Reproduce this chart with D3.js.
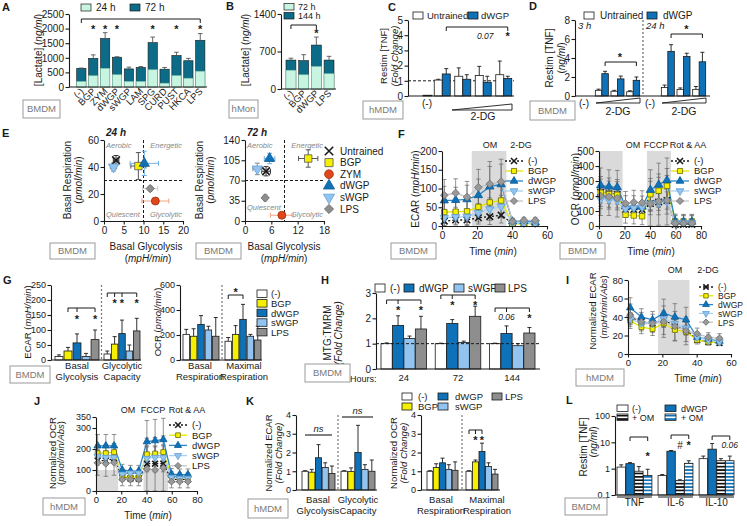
<!DOCTYPE html>
<html><head><meta charset="utf-8">
<script src="https://cdn.jsdelivr.net/npm/d3@7"></script>
<style>body{margin:0;background:#fff}</style>
</head><body><script>
// ================= DATA =================
// A
const lacCats=["(-)","BGP","ZYM","dWGP","sWGP","LAM","SPG","CURD","PUST","HKCA","LPS"];
const lac24=[190,385,640,420,190,190,590,130,390,300,540];
const lac72=[640,980,1660,1020,620,670,1520,610,1080,900,1600];
const lac72Err=[10,120,200,15,60,30,190,60,110,80,230];
const lacSig=["BGP","ZYM","dWGP","SPG","PUST","LPS"];
const lacTicks=[0,500,1000,1500,2000,2500];
// B
const monCats=["(-)","BGP","dWGP","LPS"];
const mon72=[350,265,420,285];
const mon144=[540,530,820,540];
const mon144Err=[35,110,150,70];
const monTicks=[0,700,1400];
// C
const dgDoses=["0","1","2","3"];
const cNeg=[0.05];
const cUntr=[1.05,1.3,1.35,1.4], cUntrErr=[0.05,0.55,0.6,0.9];
const cDW=[1.45,1.1,0.9,1.15], cDWErr=[0.35,0.3,0.4,0.15];
const cTicks=[0,1,2,3,4,5];
// D
const dDoses=["1","2","3"];
const dUntr3=[0.6,0.5,0.45], dUntr3Err=[0.12,0.1,0.1];
const dDW3=[2.35,1.8,1.65], dDW3Err=[0.25,0.3,0.35];
const dUntr24=[0.9,0.7,0.7], dUntr24Err=[0.25,0.15,0.3];
const dDW24=[4.7,4.15,3.6], dDW24Err=[0.7,0.35,1.0];
const dTicks=[0,2,4,6,8];
// E
const eGroups=["Untrained","BGP","ZYM","dWGP","sWGP","LPS"];
const e24x=[3.05,8.7,13,10.2,2.4,11.7], e24xErr=[0.7,1.9,3.4,3.6,0.8,1.9];
const e24y=[45,40.7,14.8,42.7,40,24], e24yErr=[3.5,10,1,9,3,2];
const e72x=[4.8,14.4,8.4,5.6,2.8,4.6], e72xErr=[1,2.2,2.6,1.2,1,0.5];
const e72y=[86,108,10,108,90,40], e72yErr=[8,15,1,9,10,6];
// F / I / J series
const seahorse=["(-)","BGP","dWGP","sWGP","LPS"];
const ecarTime=[1.3,7.8,14.3,20.8,27.3,33.8,40.3,46.8,53.3];
const ocrTime=[1.3,7.8,14.3,20.8,27.3,33.8,40.3,46.8,53.3,59.8,66.3,72.8];
const fEcarNeg=[13,16,16,22,25,29,7,7,7];
const fEcarBGP=[37,38,39,51,63,68,6,6,7];
const fEcarDW=[68,69,71,82,105,111,12,12,10];
const fEcarSW=[22,24,25,35,45,52,8,8,8];
const fEcarLPS=[82,88,77,103,112,118,12,15,15];
const fEcarErr=[42,38,42,48,60,60,8,8,8];
const fOcrNeg=[225,215,210,110,110,110,150,160,170,10,10,10];
const fOcrBGP=[222,212,208,75,70,65,212,235,268,30,30,30];
const fOcrDW=[270,262,258,130,130,128,240,275,305,30,28,28];
const fOcrSW=[180,175,170,115,122,125,150,155,162,20,20,20];
const fOcrLPS=[200,195,185,150,158,155,148,165,172,18,18,18];
const fOcrErr=[130,125,125,80,80,80,150,160,165,55,55,55];
const iNeg=[40,35,33,37,30,26,15,13,12];
const iBGP=[36,29,27,33,26,24,15,13,13];
const iDW=[50,40,37,44,40,37,18,16,14];
const iSW=[38,33,33,38,33,28,18,15,13];
const iLPS=[42,35,33,35,30,25,22,18,17];
const iErr=[12,10,10,17,16,15,6,5,5];
const jNeg=[145,145,155,65,60,60,130,130,130,55,55,55];
const jBGP=[180,180,185,70,65,65,175,178,185,70,65,65];
const jDW=[215,215,215,100,95,95,235,240,245,80,78,78];
const jSW=[165,160,160,80,85,85,155,160,160,65,60,60];
const jLPS=[135,130,135,55,55,55,105,100,110,45,45,45];
const jErr=[60,60,60,30,30,30,110,110,110,30,30,30];
// G
const gEcarBasal=[12,30,57,12,68], gEcarBasalErr=[5,12,30,10,32];
const gEcarCap=[20,53,88,30,97], gEcarCapErr=[10,25,45,20,42];
const gOcrBasal=[205,190,285,240,190], gOcrBasalErr=[40,60,70,30,150];
const gOcrMax=[150,205,325,190,160], gOcrMaxErr=[30,70,120,15,110];
// H
const hHours=["24","72","144"];
const hSeries=["(-)","dWGP","sWGP","LPS"];
const hNeg=[1,1,1], hDW=[1.72,1.8,1.4], hSW=[1.2,1.05,0.92], hLPS=[1.58,2.08,1.42];
const hNegErr=[0.03,0.02,0.02], hDWErr=[0.38,0.15,0.3], hSWErr=[0.1,0.05,0.08], hLPSErr=[0.5,0.4,0.22];
// K
const kEcarBasal=[1,0.95,1.72,1.2,0.88], kEcarBasalErr=[0.03,0.15,0.7,0.25,0.4];
const kEcarCap=[1,0.98,2.0,1.1,1.0], kEcarCapErr=[0.03,0.2,1.45,0.25,0.6];
const kOcrBasal=[1,1.2,1.45,1.1,1.05], kOcrBasalErr=[0.03,0.2,0.25,0.25,0.45];
const kOcrMax=[1,1.5,2.05,1.25,0.85], kOcrMaxErr=[0.03,0.1,0.45,0.2,0.25];
// L
const lCyto=["TNF","IL-6","IL-10"];
const lNeg=[1.15,0.55,2.4], lNegErr=[0.25,0.05,0.6];
const lDW=[1.55,4.6,5.5], lDWErr=[0.15,0.3,3.5];
const lNegOM=[0.8,0.35,2.0], lNegOMErr=[0.4,0.03,0.4];
const lDWOM=[0.55,1.6,2.0], lDWOMErr=[0.4,0.4,1.0];

// ================= HELPERS =================
const FONT='"Liberation Sans", Arial, Helvetica, sans-serif';
const INK="#1a1a1a";
const COL={mint:"#c8f5e1",teal:"#0c6b87",white:"#ffffff",blue:"#0f72b8",lblue:"#93c4ef",gray:"#8e8e8e",yellow:"#f4f000",red:"#e0461c",shade:"#dadada"};
const svg=d3.select("body").append("svg").attr("width",747).attr("height",526).attr("font-family",FONT);
const defs=svg.append("defs");
function hatch(id,col){const p=defs.append("pattern").attr("id",id).attr("patternUnits","userSpaceOnUse").attr("width",4).attr("height",3.4);
 p.append("rect").attr("width",4).attr("height",3.4).attr("fill","#fff");p.append("rect").attr("width",4).attr("height",1.7).attr("fill",col);}
hatch("hk","#111");hatch("hb",COL.blue);

function T(x,y,s,o={}){
 const t=svg.append("text").attr("x",x).attr("y",y).attr("font-size",o.fs||10).attr("fill",o.fill||INK).attr("text-anchor",o.a||"start");
 if(o.it) t.attr("font-style","italic");
 if(o.b) t.attr("font-weight","bold");
 if(o.rot!=null) t.attr("transform",`rotate(${o.rot},${x},${y})`);
 if(Array.isArray(s)) s.forEach(p=>{const sp=t.append("tspan").text(p[0]); if(p[1]) sp.attr("font-style","italic");});
 else t.text(s);
 return t;}
function P(d,o={}){return svg.append("path").attr("d",d).attr("fill",o.fill||"none").attr("stroke",o.stroke||INK).attr("stroke-width",o.sw||1).attr("stroke-dasharray",o.dash||null);}
function R(x,y,w,h,fill,o={}){return svg.append("rect").attr("x",x).attr("y",y).attr("width",w).attr("height",Math.max(0,h)).attr("fill",fill).attr("stroke",o.stroke===undefined?INK:o.stroke).attr("stroke-width",o.sw||0.8);}
function styleAx(g,fs){g.attr("font-family",FONT).attr("font-size",fs);g.select(".domain").attr("stroke",INK).attr("stroke-width",1.1);
 g.selectAll(".tick line").attr("stroke",INK).attr("stroke-width",1.1);g.selectAll(".tick text").attr("fill",INK);return g;}
function axL(x,sc,ticks,fs=10,fmt=d3.format("d")){return styleAx(svg.append("g").attr("transform",`translate(${x},0)`).call(d3.axisLeft(sc).tickValues(ticks).tickSize(3.5).tickSizeOuter(0).tickPadding(1.5).tickFormat(fmt)),fs);}
function axB(y,sc,ticks,fs=10){return styleAx(svg.append("g").attr("transform",`translate(0,${y})`).call(d3.axisBottom(sc).tickValues(ticks).tickSize(3.5).tickSizeOuter(0).tickPadding(2).tickFormat(d3.format("d"))),fs);}
function EB(x,y0,y1,cw=2.5,col=INK,sw=0.9){P(`M${x},${y0}V${y1}M${x-cw},${y1}H${x+cw}`,{stroke:col,sw});}
function EB2(x,ylo,yhi,cw=2.5,col=INK,sw=0.8){P(`M${x},${ylo}V${yhi}M${x-cw},${ylo}H${x+cw}M${x-cw},${yhi}H${x+cw}`,{stroke:col,sw});}
function EBX(y,xlo,xhi,cw=2.5,col=INK,sw=0.9){P(`M${xlo},${y}H${xhi}M${xlo},${y-cw}V${y+cw}M${xhi},${y-cw}V${y+cw}`,{stroke:col,sw});}
function BR(x1,x2,y,d=4,mids=[]){let p=`M${x1},${y+d}V${y}H${x2}V${y+d}`;mids.forEach(m=>p+=`M${m},${y}V${y+d}`);P(p,{sw:1});}
function STAR(x,y,fs=11){T(x,y,"*",{a:"middle",fs,b:true});}
function CELL(x,y,w,h,s){R(x,y,w,h,"#fff",{stroke:"#9a9a9a",sw:1});T(x+w/2,y+h/2+3.4,s,{a:"middle",fill:"#7a7a7a",fs:9.5});}
function LBL(x,y,s){T(x,y,s,{b:true,fs:11});}
const SYM={x:d3.symbolX,sq:d3.symbolSquare,ci:d3.symbolCircle,tri:d3.symbolTriangle,dtri:d3.symbolTriangle,dia:d3.symbolSquare};
function MK(x,y,type,size,fill,stroke,sw=0.8){
 const rot=type==="dtri"?180:type==="dia"?45:0;
 svg.append("path").attr("d",d3.symbol(SYM[type],size)()).attr("transform",`translate(${x},${y}) rotate(${rot})`)
  .attr("fill",type==="x"?"none":fill).attr("stroke",stroke).attr("stroke-width",type==="x"?1.6:sw);}
const STY={
 "(-)":{sym:"x",fill:INK,stroke:INK,line:INK,dash:"2,2"},
 "BGP":{sym:"sq",fill:COL.yellow,stroke:"#6a6a00",line:"#e8e400"},
 "dWGP":{sym:"tri",fill:COL.blue,stroke:"#0a5a94",line:"#2a86c8"},
 "sWGP":{sym:"dtri",fill:COL.lblue,stroke:"#5f9fd6",line:"#a9d0f2"},
 "LPS":{sym:"dia",fill:"#999",stroke:"#6f6f6f",line:"#c4c4c4"}
};
function LINE(xs,ys,times,names,vals,err,sz){
 names.forEach((n,i)=>vals[i].forEach((v,j)=>{const e=err[j]*(n==="(-)"?0.35:n==="sWGP"?0.5:n==="BGP"?0.7:n==="dWGP"?0.9:1);
   EB2(xs(times[j]),ys(Math.max(0,v-e)),ys(v+e),2.3,"#666",0.7);}));
 names.forEach((n,i)=>{const s=STY[n];svg.append("path").datum(vals[i]).attr("d",d3.line().x((d,j)=>xs(times[j])).y(d=>ys(d)))
   .attr("fill","none").attr("stroke",s.line).attr("stroke-width",1.3).attr("stroke-dasharray",s.dash||null);});
 names.forEach((n,i)=>{const s=STY[n];vals[i].forEach((v,j)=>MK(xs(times[j]),ys(v),s.sym,sz,s.fill,s.stroke));});}
function LEGL(x,y0,dy,names,fs=9.5,sz=26,half=9){names.forEach((n,i)=>{const s=STY[n];const y=y0+i*dy;
 P(`M${x-half},${y}H${x+half}`,{stroke:s.line,sw:1.3,dash:s.dash});MK(x,y,s.sym,sz,s.fill,s.stroke);T(x+half+5,y+3.4,n,{fs});});}
function SHADE(xs,ys,a,b){R(xs(a),ys.range()[1],xs(b)-xs(a),ys.range()[0]-ys.range()[1],COL.shade,{stroke:"none"});}
// grouped bars
function GB(x0,x1,vals,errs,ys,fills,base=0,pad=0.12){
 const b=d3.scaleBand().domain(d3.range(vals.length)).range([x0,x1]).paddingInner(pad);
 vals.forEach((v,i)=>{R(b(i),ys(v),b.bandwidth(),ys(base)-ys(v),fills[i],{sw:0.8});
   EB(b(i)+b.bandwidth()/2,ys(v),ys(v+errs[i]),2,INK,0.9);});
 return i=>b(i)+b.bandwidth()/2;}
const fill5=[COL.white,COL.yellow,COL.blue,COL.lblue,COL.gray];
const fill4=[COL.white,COL.blue,COL.lblue,COL.gray];

// ================= PANEL A =================
LBL(2,11,"A");
const yA=d3.scaleLinear().domain([0,2500]).range([87,14]);
const xA=d3.scaleBand().domain(lacCats).range([76.7,204.9]).paddingInner(0.22);
const xcA=c=>xA(c)+xA.bandwidth()/2;
lacCats.forEach((c,i)=>{R(xA(c),yA(lac72[i]),xA.bandwidth(),yA(0)-yA(lac72[i]),COL.teal,{sw:0.6});
 EB(xcA(c),yA(lac72[i]),yA(lac72[i]+lac72Err[i]),2.3,"#555");
 R(xA(c),yA(lac24[i]),xA.bandwidth(),yA(0)-yA(lac24[i]),COL.mint,{sw:0.6,stroke:"#7cbfa6"});});
axL(69,yA,lacTicks); P(`M69,87H207`,{sw:1.1});
lacCats.forEach(c=>T(xcA(c)+3,92,c,{a:"end",rot:-45,fs:9.5}));
BR(xcA("(-)"),xcA("LPS"),19,4);
lacSig.forEach(c=>STAR(xcA(c),33));
R(81,4,10,7,COL.mint,{sw:0.7});T(96,11,"24 h");
R(130,4,10,7,COL.teal,{sw:0.7});T(145,11,"72 h");
T(42,50,[["[Lactate] ("],["ng/ml",true],[")"]],{a:"middle",rot:-90});
CELL(23,100,37,18,"BMDM");

// ================= PANEL B =================
LBL(226,10,"B");
const yB=d3.scaleLinear().domain([0,1400]).range([89,14]);
const xB=d3.scaleBand().domain(monCats).range([286,334]).paddingInner(0.22);
const xcB=c=>xB(c)+xB.bandwidth()/2;
monCats.forEach((c,i)=>{R(xB(c),yB(mon144[i]),xB.bandwidth(),yB(0)-yB(mon144[i]),COL.teal,{sw:0.6});
 EB(xcB(c),yB(mon144[i]),yB(mon144[i]+mon144Err[i]),2.3,"#555");
 R(xB(c),yB(mon72[i]),xB.bandwidth(),yB(0)-yB(mon72[i]),COL.mint,{sw:0.6,stroke:"#7cbfa6"});});
axL(281,yB,monTicks); P(`M281,89H336`,{sw:1.1});
monCats.forEach(c=>T(xcB(c)+3,94,c,{a:"end",rot:-45,fs:9.5}));
BR(xcB("(-)"),xcB("dWGP"),25,4); STAR(xcB("dWGP"),37);
R(284,3.5,10,6.5,COL.mint,{sw:0.7});T(298,10,"72 h",{fs:9});
R(284,12.5,10,6.5,COL.teal,{sw:0.7});T(298,19,"144 h",{fs:9});
T(249,50,[["[Lactate] ("],["ng/ml",true],[")"]],{a:"middle",rot:-90});
CELL(229,100,29,18,"hMon");

// ================= PANEL C =================
LBL(388,11,"C");
const yC=d3.scaleLinear().domain([0,5]).range([96,20]);
const xC=d3.scaleBand().domain(dgDoses).range([432,514]);
const xcC=d=>xC(d)+xC.bandwidth()/2;
P(`M408,${yC(1)}H514`,{dash:"3,2",sw:1});
R(423,yC(cNeg[0]),9,yC(0)-yC(cNeg[0]),"#555");
dgDoses.forEach((d,i)=>{const c=xcC(d);
 R(c-8,yC(cUntr[i]),8,yC(0)-yC(cUntr[i]),COL.white);EB(c-4,yC(cUntr[i]),yC(cUntr[i]+cUntrErr[i]),2,INK);
 R(c,yC(cDW[i]),8,yC(0)-yC(cDW[i]),COL.blue);EB(c+4,yC(cDW[i]),yC(cDW[i]+cDWErr[i]),2,INK);});
axL(408,yC,cTicks); P(`M408,96H514`,{sw:1.1});
BR(xcC("0")+4,xcC("3")+4,27,4); STAR(xcC("3")+4,40);
T(xcC("2")+2,39,"0.07",{a:"middle",it:true,fs:8.5});
T(427,107,"(-)",{a:"middle"});
P(`M452,110L512,104V110Z`,{sw:0.9,fill:"#fff"});
T(483,120,"2-DG",{a:"middle",fs:10.5});
R(413,12,10,7,COL.white,{sw:0.8});T(427,19,"Untrained",{fs:9.5});
R(468,12,10,7,COL.blue,{sw:0.8});T(481,19,"dWGP",{fs:9.5});
T(387,56,"Restim [TNF]",{a:"middle",rot:-90,fs:9.5});
T(397.5,56,"(Fold Change)",{a:"middle",rot:-90,it:true,fs:9.5});
CELL(363,101,40,18,"hMDM");

// ================= PANEL D =================
LBL(529,10,"D");
const yD=d3.scaleLinear().domain([0,8]).range([96,20]);
const xD3=d3.scaleBand().domain(dDoses).range([594,641]);
const xD24=d3.scaleBand().domain(dDoses).range([660,707]);
const cD3=d=>xD3(d)+xD3.bandwidth()/2, cD24=d=>xD24(d)+xD24.bandwidth()/2;
dDoses.forEach((d,i)=>{let c=cD3(d);
 R(c-6.5,yD(dUntr3[i]),6.5,yD(0)-yD(dUntr3[i]),COL.white);EB(c-3.25,yD(dUntr3[i]),yD(dUntr3[i]+dUntr3Err[i]),2,INK);
 R(c,yD(dDW3[i]),6.5,yD(0)-yD(dDW3[i]),COL.blue);EB(c+3.25,yD(dDW3[i]),yD(dDW3[i]+dDW3Err[i]),2,INK);
 c=cD24(d);
 R(c-6.5,yD(dUntr24[i]),6.5,yD(0)-yD(dUntr24[i]),COL.white);EB(c-3.25,yD(dUntr24[i]),yD(dUntr24[i]+dUntr24Err[i]),2,INK);
 R(c,yD(dDW24[i]),6.5,yD(0)-yD(dDW24[i]),COL.blue);EB(c+3.25,yD(dDW24[i]),yD(dDW24[i]+dDW24Err[i]),2,INK);});
axL(575,yD,dTicks); P(`M575,96H710`,{sw:1.1});
P(`M643,20V96`,{dash:"2,2",stroke:"#888",sw:1.5});
T(578,29,"3 h",{it:true,fs:9.5}); T(646,29,"24 h",{it:true,fs:9.5});
BR(cD3("1")+3.25,cD3("3")+3.25,62,4); STAR(620,61);
BR(cD24("1")+3.25,cD24("3")+3.25,34,4); STAR(686.5,33);
T(584,107,"(-)",{a:"middle"}); T(650,107,"(-)",{a:"middle"});
P(`M596,103L640,98V103Z`,{sw:0.9,fill:"#fff"}); P(`M662,103L706,98V103Z`,{sw:0.9,fill:"#fff"});
T(618,115,"2-DG",{a:"middle",fs:10.5}); T(684,115,"2-DG",{a:"middle",fs:10.5});
R(584,12,10,7,COL.white);T(600,19,"Untrained");
R(647,12,10,7,COL.blue);T(663,19,"dWGP");
T(553,58,"Restim [TNF]",{a:"middle",rot:-90});
T(565,58,[["("],["ng/ml",true],[")"]],{a:"middle",rot:-90});
CELL(530,101,45,19,"BMDM");

// ================= PANEL E =================
LBL(2,137,"E");
const ECOL={Untrained:"#333",BGP:"#555",ZYM:"#f2a582",dWGP:"#6fb1e2",sWGP:"#8a8a8a",LPS:"#cfcfcf"};
const ESTY={Untrained:["x",INK,INK,40],BGP:["sq",COL.yellow,"#555",55],ZYM:["ci",COL.red,"#a52d0c",50],dWGP:["tri",COL.blue,"#0a5a94",45],sWGP:["dtri",COL.lblue,"#5f9fd6",45],LPS:["dia",COL.gray,"#666",35]};
function scatterE(xs,ys,X,Xe,Y,Ye){
 eGroups.forEach((g,i)=>{EBX(ys(Y[i]),xs(X[i]-Xe[i]),xs(X[i]+Xe[i]),2.5,ECOL[g],1);
  EB2(xs(X[i]),ys(Y[i]-Ye[i]),ys(Y[i]+Ye[i]),2.5,ECOL[g],1);});
 eGroups.forEach((g,i)=>{const s=ESTY[g];MK(xs(X[i]),ys(Y[i]),s[0],s[3],s[1],s[2]);});}
function quad(x0,x1,yTop,yBot,yq){
 T(x0+2,yTop+8,"Aerobic",{it:true,fs:7.5,fill:"#888"});T(x1-1,yTop+8,"Energetic",{it:true,fs:7.5,fill:"#888",a:"end"});
 T(x0+2,yq,"Quiescent",{it:true,fs:7.5,fill:"#888"});T(x1-1,yBot-4,"Glycolytic",{it:true,fs:7.5,fill:"#888",a:"end"});}
const xE1=d3.scaleLinear().domain([0,20]).range([104,183]), yE1=d3.scaleLinear().domain([0,60]).range([221,140]);
P(`M${xE1(10)},140V221M104,${yE1(30)}H183`,{dash:"3,2",sw:1});
quad(104,183,140,221,217);
scatterE(xE1,yE1,e24x,e24xErr,e24y,e24yErr);
axL(104,yE1,[0,20,40,60]); axB(221,xE1,[0,5,10,15,20]);
T(106,136,"24 h",{it:true,b:true,fs:10});
T(71,180,"Basal Respiration",{a:"middle",rot:-90});T(82,180,[["("],["pmol/min",true],[")"]],{a:"middle",rot:-90});
T(146,250,"Basal Glycolysis",{a:"middle"});T(148,262,[["("],["mpH/min",true],[")"]],{a:"middle"});
CELL(50,243,45,16,"BMDM");
const xE2=d3.scaleLinear().domain([0,18]).range([245,324]), yE2=d3.scaleLinear().domain([0,140]).range([221,140]);
P(`M${xE2(9)},140V221M245,${yE2(70)}H324`,{dash:"3,2",sw:1});
quad(245,324,140,221,210);
scatterE(xE2,yE2,e72x,e72xErr,e72y,e72yErr);
axL(245,yE2,[0,35,70,105,140]); axB(221,xE2,[0,6,12,18]);
T(247,136,"72 h",{it:true,b:true,fs:10});
T(203,180,"Basal Respiration",{a:"middle",rot:-90});T(214,180,[["("],["pmol/min",true],[")"]],{a:"middle",rot:-90});
T(284,250,"Basal Glycolysis",{a:"middle"});T(284,262,[["("],["mpH/min",true],[")"]],{a:"middle"});
CELL(196,243,45,16,"BMDM");
eGroups.forEach((g,i)=>{const y=151+i*11.6;const s=ESTY[g];MK(329,y,s[0],s[3]*1.2,s[1],s[2]);T(340,y+3.6,g,{fs:10});});

// ================= PANEL F =================
LBL(398,138,"F");
const xF1=d3.scaleLinear().domain([0,60]).range([442,547]), yF1=d3.scaleLinear().domain([0,200]).range([226,151]);
SHADE(xF1,yF1,17,36.8);
LINE(xF1,yF1,ecarTime,seahorse,[fEcarNeg,fEcarBGP,fEcarDW,fEcarSW,fEcarLPS],fEcarErr,30);
axL(442,yF1,[0,50,100,150,200]); axB(226,xF1,[0,20,40,60]);
T(490,148,"OM",{a:"middle",fs:9}); T(521,148,"2-DG",{a:"middle",fs:9});
LEGL(514,161,10,seahorse,9.5,26);
T(419,189,[["ECAR ("],["mpH/min",true],[")"]],{a:"middle",rot:-90});
T(493,255,[["Time ("],["min",true],[")"]],{a:"middle"});
CELL(391,243,45,16,"BMDM");
const xF2=d3.scaleLinear().domain([0,80]).range([599,701]), yF2=d3.scaleLinear().domain([0,500]).range([226,151]);
SHADE(xF2,yF2,0,18.5); SHADE(xF2,yF2,37.6,56.5);
LINE(xF2,yF2,ocrTime,seahorse,[fOcrNeg,fOcrBGP,fOcrDW,fOcrSW,fOcrLPS],fOcrErr,30);
axL(599,yF2,[0,100,200,300,400,500]); axB(226,xF2,[0,20,40,60,80]);
T(633,148,"OM",{a:"middle",fs:9}); T(656,148,"FCCP",{a:"middle",fs:9}); T(688,148,"Rot & AA",{a:"middle",fs:9});
LEGL(680,161,10,seahorse,9.5,26);
T(579,189,[["OCR ("],["pmol/min",true],[")"]],{a:"middle",rot:-90});
T(651,255,[["Time ("],["min",true],[")"]],{a:"middle"});
CELL(560,243,45,16,"BMDM");

// ================= PANEL G =================
LBL(3,284,"G");
const yG1=d3.scaleLinear().domain([0,250]).range([360,285]);
const gb1=GB(55,99,gEcarBasal,gEcarBasalErr,yG1,fill5);
const gc1=GB(104,140,gEcarCap,gEcarCapErr,yG1,fill5);
P(`M101.5,285V360`,{dash:"2,2",stroke:"#777",sw:1.2});
axL(51,yG1,[0,50,100,150,200,250],9); P(`M51,360H141`,{sw:1.1});
BR(gb1(1),gb1(4),308,4,[gb1(2)]); STAR(gb1(2),323); STAR(gb1(4),323);
BR(gc1(0),gc1(4),293,4,[gc1(1),gc1(2)]); [1,2,4].forEach(i=>STAR(gc1(i),307));
T(77,369,"Basal",{a:"middle",fs:9.5});T(77,380,"Glycolysis",{a:"middle",fs:9.5});
T(122,369,"Glycolytic",{a:"middle",fs:9.5});T(122,380,"Capacity",{a:"middle",fs:9.5});
T(31,322,[["ECAR ("],["mpH/min",true],[")"]],{a:"middle",rot:-90,fs:9.5});
const yG2=d3.scaleLinear().domain([0,600]).range([360,285]);
const gb2=GB(183,219,gOcrBasal,gOcrBasalErr,yG2,fill5);
const gc2=GB(225,261,gOcrMax,gOcrMaxErr,yG2,fill5);
P(`M222,285V360`,{dash:"2,2",stroke:"#777",sw:1.2});
axL(180,yG2,[0,200,400,600],9); P(`M180,360H262`,{sw:1.1});
BR(gc2(0),gc2(2),295,4); STAR((gc2(0)+gc2(2))/2,296);
T(200,369,"Basal",{a:"middle",fs:9.5});T(200,380,"Respiration",{a:"middle",fs:9.5});
T(244,369,"Maximal",{a:"middle",fs:9.5});T(244,380,"Respiration",{a:"middle",fs:9.5});
T(161,322,[["OCR ("],["pmol/min",true],[")"]],{a:"middle",rot:-90,fs:9.5});
seahorse.forEach((n,i)=>{const y=294+i*9.6;R(257,y-4,10,7.5,fill5[i]);T(271,y+3.4,n,{fs:9.5});});
CELL(10,366,40,17,"BMDM");

// ================= PANEL H =================
LBL(321,284,"H");
const yH=d3.scaleLinear().domain([0,3]).range([369,293]);
const xH=d3.scaleBand().domain(hHours).range([381,535]).paddingInner(0.16);
const hv=[hNeg,hDW,hSW,hLPS], he=[hNegErr,hDWErr,hSWErr,hLPSErr];
const hc={};
hHours.forEach((h,k)=>{hc[h]=GB(xH(h),xH(h)+xH.bandwidth(),hv.map(a=>a[k]),he.map(a=>a[k]),yH,fill4,0,0.02);});
P(`M376,${yH(1)}H540`,{dash:"3,2",sw:1});
axL(376,yH,[0,1,2,3]); P(`M376,369H540`,{sw:1.1});
BR(hc["24"](0),hc["24"](3),300,4,[hc["24"](1)]); STAR(hc["24"](1),314); STAR(hc["24"](3),314);
BR(hc["72"](0),hc["72"](3),295,4,[hc["72"](1)]); STAR(hc["72"](1),309); STAR(hc["72"](3),309);
BR(hc["144"](0),hc["144"](3),308,4,[hc["144"](1)]); T(hc["144"](1),320,"0.06",{a:"middle",it:true,fs:8.5}); STAR(hc["144"](3),322);
hHours.forEach(h=>T(xH(h)+xH.bandwidth()/2,381,h,{a:"middle",fs:9.5}));
T(350,381.5,"Hours:",{fs:9});
hSeries.forEach((n,i)=>{const xs=[375,404,454,495][i],xt=[390,419,468,508][i];R(xs,284,10,8,fill4[i]);T(xt,291.5,n,{fs:10});});
T(331,333,"MTG:TMRM",{a:"middle",rot:-90});
T(342,333,"(Fold Change)",{a:"middle",rot:-90,it:true});
CELL(305,364,45,18,"BMDM");

// ================= PANEL I =================
LBL(566,284,"I");
const xI=d3.scaleLinear().domain([0,60]).range([628,731]), yI=d3.scaleLinear().domain([0,80]).range([354,280]);
SHADE(xI,yI,17.5,35.8);
LINE(xI,yI,ecarTime,seahorse,[iNeg,iBGP,iDW,iSW,iLPS],iErr,24);
axL(628,yI,[0,20,40,60,80],9.5); axB(354,xI,[0,20,40,60],9.5);
T(675,273,"OM",{a:"middle",fs:9}); T(708,273,"2-DG",{a:"middle",fs:9});
LEGL(706,287,8.8,seahorse,8.5,20,7);
T(596,311,"Normalized ECAR",{a:"middle",rot:-90,fs:9.5});
T(607,307,[["("],["mpH/min/Abs",true],[")"]],{a:"middle",rot:-90,fs:9.5});
T(698,382,[["Time ("],["min",true],[")"]],{a:"middle"});
CELL(576,369,48,17,"hMDM");

// ================= PANEL J =================
LBL(34,405,"J");
const xJ=d3.scaleLinear().domain([0,80]).range([96,197]);
const yJ=d3.scaleLinear().domain([0,100,200,300,350]).range([491,470,449,428,417]);
SHADE(xJ,yJ,0,17.5); SHADE(xJ,yJ,37.6,57);
LINE(xJ,yJ,ocrTime,seahorse,[jNeg,jBGP,jDW,jSW,jLPS],jErr,24);
axL(96,yJ,[0,100,200,300,350],9); axB(491,xJ,[0,20,40,60,80],9.5);
T(128,413,"OM",{a:"middle",fs:9}); T(153,413,"FCCP",{a:"middle",fs:9}); T(187,413,"Rot & AA",{a:"middle",fs:9});
LEGL(178,425,10.2,seahorse,9.5,22);
T(56,453,"Normalized OCR",{a:"middle",rot:-90,fs:9.5});
T(64,453,[["("],["pmol/min/Abs",true],[")"]],{a:"middle",rot:-90,fs:9.5});
T(148,519,[["Time ("],["min",true],[")"]],{a:"middle"});
CELL(43,498,42,17,"hMDM");

// ================= PANEL K =================
LBL(246,405,"K");
const yK=d3.scaleLinear().domain([0,4]).range([490,415]);
const kb1=GB(302,335,kEcarBasal,kEcarBasalErr,yK,fill5,0,0.08);
const kc1=GB(341,375,kEcarCap,kEcarCapErr,yK,fill5,0,0.08);
P(`M338,415V490`,{dash:"2,2",stroke:"#777",sw:1.2});
axL(296,yK,[0,1,2,3,4],9); P(`M296,490H377`,{sw:1.1});
P(`M305,435H332`,{sw:1.1}); T(318.5,432,"ns",{a:"middle",it:true,fs:9.5});
P(`M342,417H373`,{sw:1.1}); T(357.5,414,"ns",{a:"middle",it:true,fs:9.5});
T(318,503,"Basal",{a:"middle",fs:9.5});T(318,514,"Glycolysis",{a:"middle",fs:9.5});
T(358,503,"Glycolytic",{a:"middle",fs:9.5});T(358,514,"Capacity",{a:"middle",fs:9.5});
T(272,453,"Normalized ECAR",{a:"middle",rot:-90,fs:9.5});
T(282,453,"(Fold Change)",{a:"middle",rot:-90,it:true,fs:9.5});
const kb2=GB(427,458,kOcrBasal,kOcrBasalErr,yK,fill5,0,0.08);
const kc2=GB(466,498,kOcrMax,kOcrMaxErr,yK,fill5,0,0.08);
P(`M462,415V490`,{dash:"2,2",stroke:"#777",sw:1.2});
axL(421,yK,[0,1,2,3,4],9); P(`M421,490H500`,{sw:1.1});
BR(kc2(0),kc2(2),430,4,[kc2(1)]); STAR(kc2(1),444); STAR(kc2(2),444);
T(441,503,"Basal",{a:"middle",fs:9.5});T(441,514,"Respiration",{a:"middle",fs:9.5});
T(487,503,"Maximal",{a:"middle",fs:9.5});T(487,514,"Respiration",{a:"middle",fs:9.5});
T(397,453,"Normalized OCR",{a:"middle",rot:-90,fs:9.5});
T(407,453,"(Fold Change)",{a:"middle",rot:-90,it:true,fs:9.5});
[[0,402,393,418],[2,438,393,455],[4,492,393,505],[1,402,403,418],[3,438,403,455]].forEach(([i,bx,by,tx])=>{R(bx,by,10,7,fill5[i]);T(tx,by+6.8,seahorse[i],{fs:9.5});});
CELL(248,499,40,19,"hMDM");

// ================= PANEL L =================
LBL(566,404,"L");
const yL=d3.scaleLog().domain([0.1,100]).range([495,416]);
const xL=d3.scaleBand().domain(lCyto).range([617,734]).paddingInner(0.15);
const lv=[lNeg,lDW,lNegOM,lDWOM], le=[lNegErr,lDWErr,lNegOMErr,lDWOMErr];
const lFill=[COL.white,COL.blue,"url(#hk)","url(#hb)"];
const lc={};
lCyto.forEach((c,k)=>{lc[c]=GB(xL(c),xL(c)+xL.bandwidth(),lv.map(a=>a[k]),le.map(a=>a[k]),yL,lFill,0.1,0.05);
 P(`M${xL(c)},497H${xL(c)+xL.bandwidth()}`,{sw:1.2});
 T(xL(c)+xL.bandwidth()/2,506,c,{a:"middle",fs:10});});
axL(615,yL,[0.1,1,10,100],9,d3.format("~g")); P(`M615,495H733`,{sw:1.1});
BR(lc["TNF"](1),lc["TNF"](3),437,4); STAR(lc["TNF"](3),460);
BR(lc["IL-6"](1),lc["IL-6"](3),435,4); T(lc["IL-6"](2),449,"#",{a:"middle",fs:10}); STAR(lc["IL-6"](3),449);
BR(lc["IL-10"](1),lc["IL-10"](3),436,4); T(lc["IL-10"](3),448,"0.06",{a:"middle",it:true,fs:8.5});
R(617,405,11,6.5,COL.white);T(632,411.5,"(-)",{fs:9});
R(617,414,11,6.5,"url(#hk)");T(632,420.5,"+ OM",{fs:9});
R(665,405,11,6.5,COL.blue);T(681,411.5,"dWGP",{fs:9});
R(665,414,11,6.5,"url(#hb)");T(681,420.5,"+ OM",{fs:9});
T(587,447,"Restim [TNF]",{a:"middle",rot:-90,fs:10});
T(597,442,[["("],["ng/ml",true],[")"]],{a:"middle",rot:-90,fs:10});
CELL(565,498,42,17,"BMDM");
</script></body></html>
